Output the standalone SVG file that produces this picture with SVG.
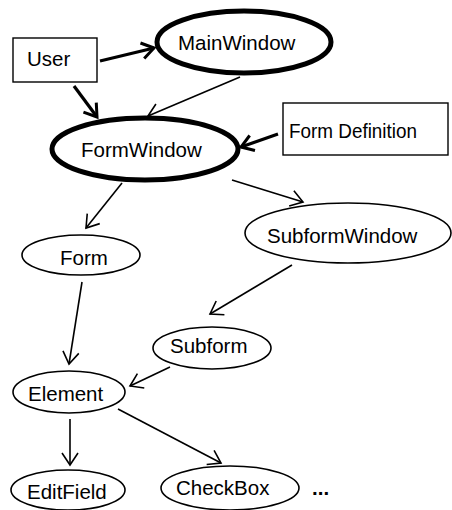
<svg xmlns="http://www.w3.org/2000/svg" width="452" height="510" viewBox="0 0 452 510">
<style>
text{font-family:"Liberation Sans",Arial,sans-serif;font-size:20.5px;fill:#000}
.n{fill:#fff;stroke:#000;stroke-width:1.6}
.b{fill:#fff;stroke:#000;stroke-width:5}
.r{fill:#fff;stroke:#000;stroke-width:1.4}
.c line{stroke:#000;fill:none}
.t{stroke-width:3.2}
.s{stroke-width:1.6}
</style>
<defs>
<marker id="ah" markerUnits="userSpaceOnUse" viewBox="-14 -10 16 20" markerWidth="16" markerHeight="20" refX="0" refY="0" orient="auto" overflow="visible">
<path d="M-12,-8 L0,0 L-12,8" fill="none" stroke="#000" stroke-width="3"/>
</marker>
<marker id="as" markerUnits="userSpaceOnUse" viewBox="-14 -10 16 20" markerWidth="16" markerHeight="20" refX="0" refY="0" orient="auto" overflow="visible">
<path d="M-12,-8 L0,0 L-12,8" fill="none" stroke="#000" stroke-width="1.6"/>
</marker>
</defs>
<g class="c" id="connectors">
<line class="t" x1="100" y1="61" x2="154" y2="48" marker-end="url(#ah)"/>
<line class="t" x1="74" y1="86" x2="97" y2="117" marker-end="url(#ah)"/>
<line class="s" x1="240" y1="77" x2="148" y2="116" marker-end="url(#as)"/>
<line class="t" x1="278" y1="134" x2="241" y2="147" marker-end="url(#ah)"/>
<line class="s" x1="232" y1="180" x2="303" y2="202" marker-end="url(#as)"/>
<line class="s" x1="122" y1="183" x2="86" y2="228" marker-end="url(#as)"/>
<line class="s" x1="82" y1="282" x2="69" y2="364" marker-end="url(#as)"/>
<line class="s" x1="292" y1="265" x2="210" y2="314" marker-end="url(#as)"/>
<line class="s" x1="170" y1="367" x2="130" y2="386" marker-end="url(#as)"/>
<line class="s" x1="70" y1="419" x2="70" y2="465" marker-end="url(#as)"/>
<line class="s" x1="118" y1="409" x2="221" y2="463" marker-end="url(#as)"/>
</g>
<g id="user"><rect class="r" x="13" y="38" width="84" height="44"/><text x="27" y="66">User</text></g>
<g id="mainwindow"><ellipse class="b" cx="244" cy="42" rx="87" ry="31"/><text x="178" y="50">MainWindow</text></g>
<g id="formwindow"><ellipse class="b" cx="145" cy="149" rx="93" ry="31"/><text x="81" y="157">FormWindow</text></g>
<g id="formdefinition"><rect class="r" x="283" y="103" width="165" height="52"/><text x="289" y="138" textLength="128" lengthAdjust="spacingAndGlyphs">Form Definition</text></g>
<g id="subformwindow"><ellipse class="n" cx="348" cy="233" rx="103" ry="30"/><text x="267" y="243">SubformWindow</text></g>
<g id="form"><ellipse class="n" cx="81" cy="255" rx="59" ry="20"/><text x="60" y="265">Form</text></g>
<g id="subform"><ellipse class="n" cx="212" cy="348" rx="59" ry="21"/><text x="170" y="353">Subform</text></g>
<g id="element"><ellipse class="n" cx="69" cy="392" rx="56" ry="21"/><text x="28" y="401">Element</text></g>
<g id="editfield"><ellipse class="n" cx="68" cy="490" rx="57" ry="20"/><text x="27" y="499">EditField</text></g>
<g id="checkbox"><ellipse class="n" cx="230" cy="488" rx="69" ry="22"/><text x="176" y="495">CheckBox</text></g>
<text x="312" y="495" style="font-weight:bold">...</text>
</svg>
